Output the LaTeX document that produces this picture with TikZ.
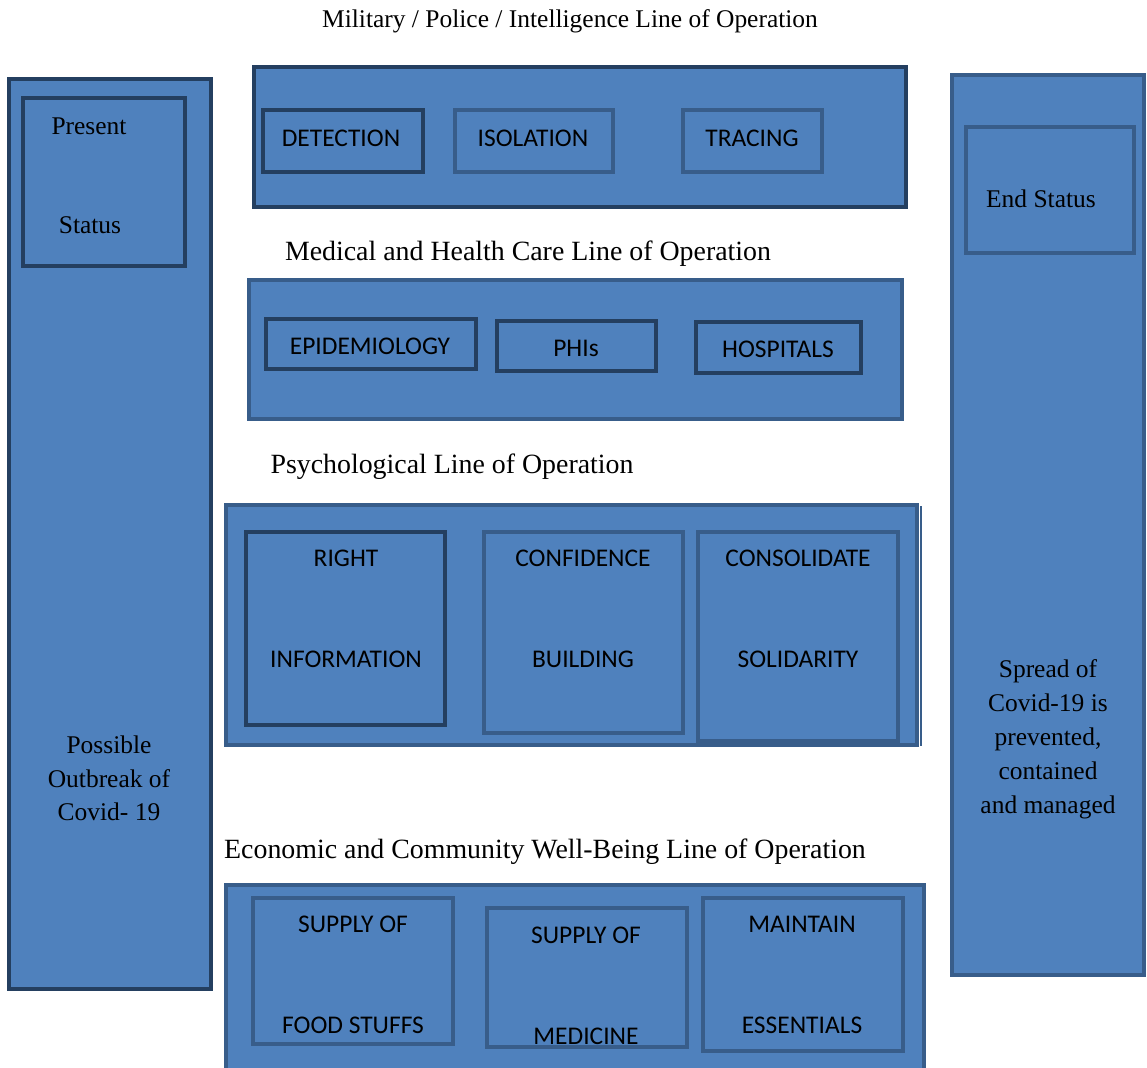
\documentclass[tikz,border=0pt]{standalone}
\usepackage{fontspec}
\setmainfont{Liberation Serif}
\newfontfamily\calfont{Carlito}
\definecolor{fillblue}{HTML}{4F81BD}
\definecolor{darkb}{HTML}{243F60}
\definecolor{medb}{HTML}{385D8A}
\tikzset{
  darkbox/.style={draw=darkb, fill=fillblue, line width=3pt},
  medbox/.style={draw=medb, fill=fillblue, line width=2.4pt},
  serif/.style={font=\fontsize{19.1}{23}\selectfont, inner sep=0pt, anchor=base},
  heading/.style={font=\fontsize{20.9}{25}\selectfont, inner sep=0pt, anchor=base},
  sans/.style={font=\calfont\fontsize{19.1}{23}\selectfont, inner sep=0pt, anchor=base},
}
\begin{document}
\begin{tikzpicture}[x=0.75pt, y=-0.75pt]
\useasboundingbox (0,0) rectangle (1147,1068);
% titles
\node[serif] (t1) at (570,27) {Military / Police / Intelligence Line of Operation};
\node[heading] (t2) at (528,260) {Medical and Health Care Line of Operation};
\node[heading] (t3) at (452,473) {Psychological Line of Operation};
\node[heading] (t4) at (545,858) {Economic and Community Well-Being Line of Operation};
% left column
\draw[darkbox] (9,79) rectangle (211,989);
\draw[darkbox] (23,98) rectangle (185,266);
\node[serif] (present) at (89,134) {Present};
\node[serif] (status) at (90,233) {Status};
\node[serif] (poss1) at (109,753) {Possible};
\node[serif] (poss2) at (109,787) {Outbreak of};
\node[serif] (poss3) at (109,820) {Covid- 19};
% right column
\draw[medbox] (952,75) rectangle (1144,975);
\draw[medbox] (966,127) rectangle (1134,253);
\node[serif] (end) at (1041,207) {End Status};
\node[serif] (sp1) at (1048,677) {Spread of};
\node[serif] (sp2) at (1048,711) {Covid-19 is};
\node[serif] (sp3) at (1048,745) {prevented,};
\node[serif] (sp4) at (1048,779) {contained};
\node[serif] (sp5) at (1048,813) {and managed};
% line 1
\draw[darkbox] (254,67) rectangle (906,207);
\draw[darkbox] (263,110) rectangle (423,172);
\draw[medbox] (455,110) rectangle (613,172);
\draw[medbox] (683,110) rectangle (822,172);
\node[sans] (det) at (341,146) {DETECTION};
\node[sans] (iso) at (533,146) {ISOLATION};
\node[sans] (tra) at (752,146) {TRACING};
% line 2
\draw[medbox] (249,280) rectangle (902,419);
\draw[darkbox] (266,319) rectangle (476,369);
\draw[darkbox] (497,321) rectangle (656,371);
\draw[darkbox] (696,322) rectangle (861,373);
\node[sans] (epi) at (370,354) {EPIDEMIOLOGY};
\node[sans] (phi) at (576,356) {PHIs};
\node[sans] (hos) at (778,357) {HOSPITALS};
% line 3
\draw[medbox] (226,505) rectangle (917,745);
\draw[medb, line width=1.5pt] (921,506) -- (921,746);
\draw[darkbox] (246,532) rectangle (445,725);
\draw[medbox] (484,532) rectangle (683,733);
\draw[medbox] (698,532) rectangle (898,741);
\node[sans] (r1) at (346,566) {RIGHT};
\node[sans] (r2) at (346,667) {INFORMATION};
\node[sans] (c1) at (583,566) {CONFIDENCE};
\node[sans] (c2) at (583,667) {BUILDING};
\node[sans] (s1) at (798,566) {CONSOLIDATE};
\node[sans] (s2) at (798,667) {SOLIDARITY};
% line 4
\draw[medbox] (226,885) rectangle (924,1070);
\draw[medbox] (253,898) rectangle (453,1044);
\draw[medbox] (487,908) rectangle (687,1047);
\draw[medbox] (703,898) rectangle (903,1051);
\node[sans] (f1) at (353,932) {SUPPLY OF};
\node[sans] (f2) at (353,1033) {FOOD STUFFS};
\node[sans] (m1) at (586,943) {SUPPLY OF};
\node[sans] (m2) at (586,1044) {MEDICINE};
\node[sans] (e1) at (802,932) {MAINTAIN};
\node[sans] (e2) at (802,1033) {ESSENTIALS};
\end{tikzpicture}
\end{document}
